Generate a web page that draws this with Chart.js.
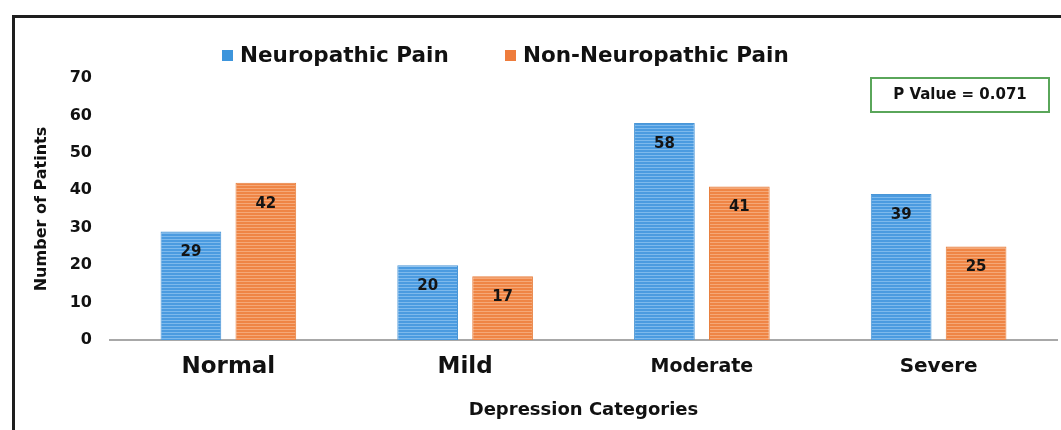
<!DOCTYPE html>
<html>
<head>
  <title>Depression Categories</title>
  <script src="https://cdn.jsdelivr.net/npm/chart.js"></script>
  <style>
    body { margin: 0; background: #ffffff; }
    #wrap { width: 1061px; height: 430px; }
  </style>
</head>
<body>
  <div id="wrap"><canvas id="barChart" width="1061" height="430"></canvas></div>

  <script>
    const categories = ["Normal", "Mild", "Moderate", "Severe"];
    const neuropathic = [29, 20, 58, 39];
    const nonNeuropathic = [42, 17, 41, 25];
    const seriesLabels = ["Neuropathic Pain", "Non-Neuropathic Pain"];
    const categoryFontSizes = [23, 23, 19, 20];
    const pValueText = "P Value = 0.071";

    const FONT = "'DejaVu Sans', sans-serif";

    // striped fill like the original bars
    function stripes(base, line) {
      const c = document.createElement("canvas");
      c.width = 4; c.height = 3;
      const g = c.getContext("2d");
      g.fillStyle = base;
      g.fillRect(0, 0, 4, 3);
      g.fillStyle = line;
      g.fillRect(0, 2, 4, 1);
      return g.createPattern(c, "repeat");
    }

    const ctx = document.getElementById("barChart").getContext("2d");
    const blueFill = stripes("#4b9be0", "#7db9ec");
    const orangeFill = stripes("#ef8545", "#f5a877");

    const framePlugin = {
      id: "frame",
      beforeDraw(chart) {
        const c = chart.ctx;
        c.save();
        c.fillStyle = "#ffffff";
        c.fillRect(0, 0, chart.width, chart.height);
        c.strokeStyle = "#1e1e1e";
        c.lineWidth = 3;
        c.strokeRect(13.5, 16.5, 1200, 600);
        c.restore();
      },
      afterDraw(chart) {
        const c = chart.ctx;
        c.save();
        // legend
        const legendX = [222, 505];
        const colors = ["#3d95dc", "#ee7c3c"];
        c.font = "bold 21.5px " + FONT;
        c.textBaseline = "middle";
        c.textAlign = "left";
        chart.data.datasets.forEach((ds, i) => {
          c.fillStyle = colors[i];
          c.fillRect(legendX[i], 50, 11, 11);
          c.fillStyle = "#111111";
          c.fillText(ds.label, legendX[i] + 18, 56);
        });
        // p value box
        c.strokeStyle = "#5aa65a";
        c.lineWidth = 2;
        c.strokeRect(871, 78, 178, 34);
        c.font = "bold 15px " + FONT;
        c.textAlign = "center";
        c.fillStyle = "#111111";
        c.fillText(pValueText, 960, 95);
        c.restore();
      }
    };

    const valueLabels = {
      id: "valueLabels",
      afterDatasetsDraw(chart) {
        const c = chart.ctx;
        c.save();
        c.font = "bold 15px " + FONT;
        c.fillStyle = "#141414";
        c.textAlign = "center";
        c.textBaseline = "middle";
        chart.data.datasets.forEach((ds, i) => {
          chart.getDatasetMeta(i).data.forEach((bar, j) => {
            c.fillText(ds.data[j], bar.x, bar.y + 21);
          });
        });
        c.restore();
      }
    };

    new Chart(ctx, {
      type: "bar",
      data: {
        labels: categories,
        datasets: [
          { label: seriesLabels[0], data: neuropathic, backgroundColor: blueFill, borderColor: "#4a96d6", borderWidth: 1 },
          { label: seriesLabels[1], data: nonNeuropathic, backgroundColor: orangeFill, borderColor: "#e8803f", borderWidth: 1 }
        ]
      },
      options: {
        responsive: false,
        animation: false,
        layout: { padding: { top: 78, right: 4, bottom: 0, left: 0 } },
        datasets: { bar: { barPercentage: 0.81, categoryPercentage: 0.633 } },
        plugins: {
          legend: { display: false },
          tooltip: { enabled: false }
        },
        scales: {
          x: {
            grid: { display: false, drawTicks: false },
            border: { display: true, color: "#a8a8a8", width: 2 },
            ticks: {
              padding: 13,
              color: "#111111",
              font: (c) => ({ family: FONT, weight: "bold", size: categoryFontSizes[c.index] || 20, lineHeight: "28px" })
            },
            title: {
              display: true,
              text: "Depression Categories",
              color: "#111111",
              font: { family: FONT, weight: "bold", size: 18 },
              padding: { top: 0, bottom: 9 }
            },
            afterFit(scale) { scale.height = 90; }
          },
          y: {
            min: 0,
            max: 70,
            grid: { display: false, drawTicks: false },
            border: { display: false },
            ticks: {
              stepSize: 10,
              padding: 18,
              color: "#111111",
              font: { family: FONT, weight: "bold", size: 16 }
            },
            title: {
              display: true,
              text: "Number of Patints",
              color: "#111111",
              font: { family: FONT, weight: "bold", size: 16 },
              padding: { top: 32, bottom: 0 }
            },
            afterFit(scale) { scale.width = 110; }
          }
        }
      },
      plugins: [framePlugin, valueLabels]
    });
  </script>
</body>
</html>
